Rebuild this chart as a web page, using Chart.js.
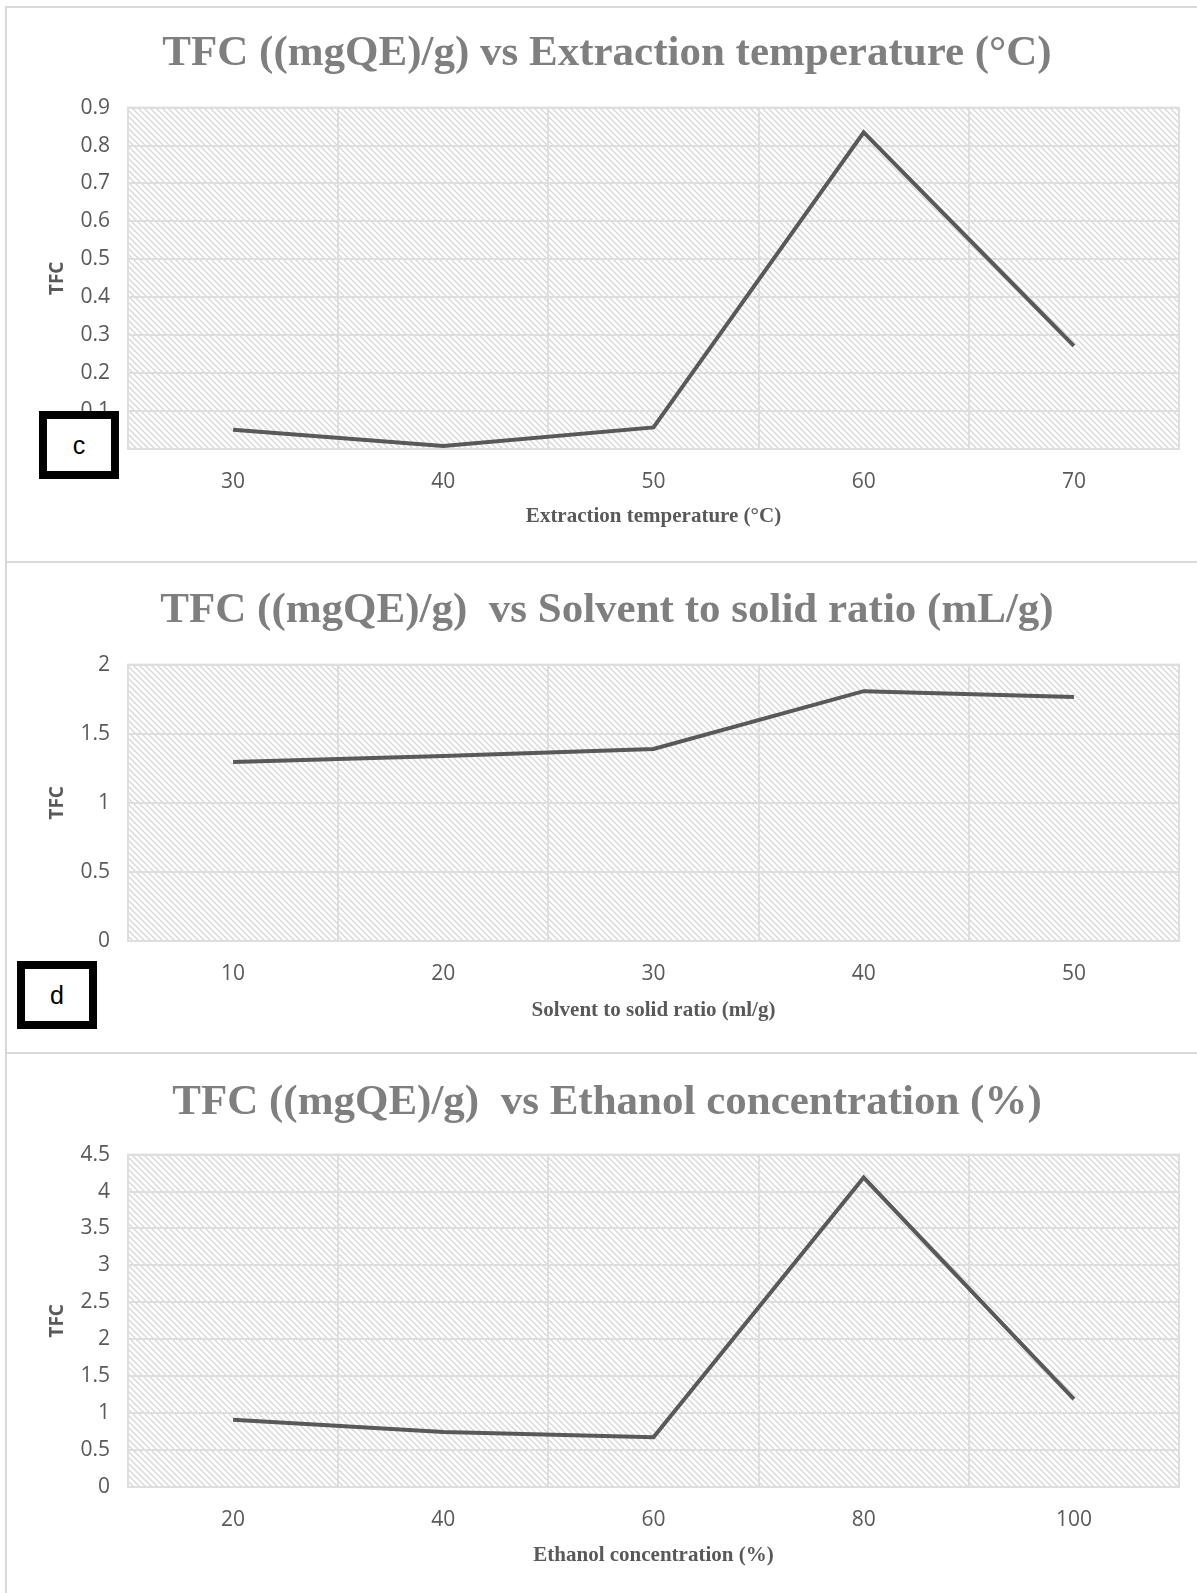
<!DOCTYPE html>
<html>
<head>
<meta charset="utf-8">
<script src="https://cdn.jsdelivr.net/npm/chart.js@4.4.0/dist/chart.umd.min.js"></script>
<style>
  html, body { margin: 0; padding: 0; background: #fff; overflow: hidden; }
  body { width: 1197px; height: 1593px; position: relative; }
  canvas { position: absolute; left: 0; }
  .rule { position: absolute; background: #d9d9d9; }
  .tag {
    position: absolute; box-sizing: border-box; border: 8px solid #000; background: #fff;
    font-family: "Liberation Sans", Arial, sans-serif; font-size: 25px; color: #000;
    display: flex; align-items: center; justify-content: center;
  }
</style>
</head>
<body>
<canvas id="chartTemp" width="1214" height="562" style="top:0px"></canvas>
<canvas id="chartRatio" width="1214" height="491" style="top:562px"></canvas>
<canvas id="chartEthanol" width="1214" height="540" style="top:1053px"></canvas>

<div class="rule" style="left:5px; top:6px; width:1192px; height:2px"></div>
<div class="rule" style="left:5px; top:561px; width:1192px; height:2px"></div>
<div class="rule" style="left:5px; top:1052px; width:1192px; height:2px"></div>
<div class="rule" style="left:5px; top:6px; width:2px; height:1587px"></div>

<div class="tag" style="left:39px; top:411px; width:80px; height:68px">c</div>
<div class="tag" style="left:17px; top:961px; width:80px; height:68px">d</div>

<script>
// data
const tempLabels = ['30', '40', '50', '60', '70']
const tempTFC = [0.051, 0.008, 0.057, 0.835, 0.272]

const ratioLabels = ['10', '20', '30', '40', '50']
const ratioTFC = [1.295, 1.338, 1.39, 1.808, 1.765]

const ethanolLabels = ['20', '40', '60', '80', '100']
const ethanolTFC = [0.91, 0.745, 0.675, 4.19, 1.19]

const lineColor = '#595959'
const gridColor = '#dedede'
const textColor = '#595959'

function makeHatch() {
    const tile = document.createElement('canvas')
    tile.width = 6
    tile.height = 6
    const c = tile.getContext('2d')
    c.fillStyle = '#ffffff'
    c.fillRect(0, 0, 6, 6)
    c.strokeStyle = '#d8d8d8'
    c.lineWidth = 1.4
    c.beginPath()
    c.moveTo(-1, -1); c.lineTo(7, 7)
    c.moveTo(-4, 2); c.lineTo(4, 10)
    c.moveTo(2, -4); c.lineTo(10, 4)
    c.stroke()
    return tile
}

const hatchPlugin = {
    id: 'hatch',
    beforeDraw(chart) {
        const { ctx, chartArea } = chart
        ctx.save()
        ctx.fillStyle = ctx.createPattern(makeHatch(), 'repeat')
        ctx.fillRect(chartArea.left, chartArea.top, chartArea.right - chartArea.left, chartArea.bottom - chartArea.top)
        ctx.restore()
    }
}

// light frame round the plot area
const frameLines = {
    id: 'frameLines',
    afterDraw(chart) {
        const { ctx, chartArea } = chart
        ctx.save()
        ctx.strokeStyle = gridColor
        ctx.lineWidth = 2
        ctx.strokeRect(chartArea.left, chartArea.top, chartArea.right - chartArea.left, chartArea.bottom - chartArea.top)
        ctx.restore()
    }
}

function buildChart(id, labels, values, cfg) {
    const ctx = document.getElementById(id).getContext('2d')
    return new Chart(ctx, {
        type: 'line',
        data: {
            labels: labels,
            datasets: [{
                data: values,
                borderColor: lineColor,
                borderWidth: 4,
                pointRadius: 0,
                tension: 0,
                fill: false
            }]
        },
        plugins: [hatchPlugin, frameLines],
        options: {
            responsive: false,
            animation: false,
            devicePixelRatio: 1,
            layout: { padding: 0 },
            plugins: {
                legend: { display: false },
                tooltip: { enabled: false },
                title: {
                    display: true,
                    text: cfg.title,
                    color: '#7f7f7f',
                    font: { family: '"Liberation Serif", "Times New Roman", serif', size: 43, weight: 'bold' },
                    padding: { top: cfg.titleTop, bottom: cfg.titleBottom }
                }
            },
            scales: {
                x: {
                    type: 'category',
                    offset: true,
                    grid: { offset: true, color: gridColor, lineWidth: 2, drawTicks: false },
                    border: { display: true, color: gridColor, width: 2 },
                    ticks: { color: textColor, font: { family: '"Open Sans", sans-serif', size: 21 }, padding: 20 },
                    title: {
                        display: true,
                        text: cfg.xTitle,
                        color: textColor,
                        font: { family: '"Liberation Serif", "Times New Roman", serif', size: 21, weight: 'bold' },
                        padding: { top: 0, bottom: cfg.xTitleBottom }
                    },
                    afterFit(scale) { scale.height = cfg.xHeight }
                },
                y: {
                    min: 0,
                    max: cfg.yMax,
                    grid: { color: gridColor, lineWidth: 2, drawTicks: false },
                    border: { display: false },
                    ticks: {
                        stepSize: cfg.yStep,
                        color: textColor,
                        font: { family: '"Open Sans", sans-serif', size: 21 },
                        padding: 18,
                        callback: (v) => String(+v.toFixed(1))
                    },
                    title: {
                        display: true,
                        text: 'TFC',
                        color: textColor,
                        font: { family: '"Open Sans", sans-serif', size: 19, weight: 'bold' },
                        padding: { top: 46, bottom: 0 }
                    },
                    afterFit(scale) { scale.width = 128 }
                },
                // empty strip on the right so the plot stops at x=1179
                spacer: {
                    type: 'linear',
                    position: 'right',
                    grid: { display: false },
                    border: { display: false },
                    ticks: { display: false },
                    afterFit(scale) { scale.width = 35 }
                }
            }
        },
    })
}

buildChart('chartTemp', tempLabels, tempTFC, {
    title: 'TFC ((mgQE)/g) vs Extraction temperature (\u00B0C)',
    xTitle: 'Extraction temperature (\u00B0C)',
    titleTop: 28, titleBottom: 28,
    xHeight: 113, xTitleBottom: 33,
    yMax: 0.9, yStep: 0.1
})

buildChart('chartRatio', ratioLabels, ratioTFC, {
    title: 'TFC ((mgQE)/g)  vs Solvent to solid ratio (mL/g)',
    xTitle: 'Solvent to solid ratio (ml/g)',
    titleTop: 23, titleBottom: 28,
    xHeight: 112, xTitleBottom: 30,
    yMax: 2, yStep: 0.5
})

buildChart('chartEthanol', ethanolLabels, ethanolTFC, {
    title: 'TFC ((mgQE)/g)  vs Ethanol concentration (%)',
    xTitle: 'Ethanol concentration (%)',
    titleTop: 24, titleBottom: 26,
    xHeight: 106, xTitleBottom: 25,
    yMax: 4.5, yStep: 0.5
})
</script>
</body>
</html>
